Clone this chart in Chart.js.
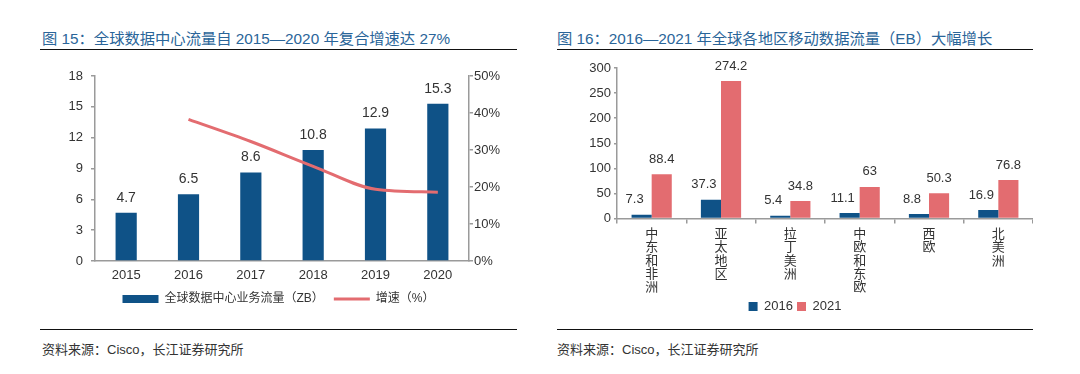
<!DOCTYPE html>
<html>
<head>
<meta charset="utf-8">
<script src="https://cdn.jsdelivr.net/npm/chart.js@4.4.0/dist/chart.umd.min.js"></script>
<style>
body { margin: 0; background: #fff; width: 1080px; height: 374px; position: relative; overflow: hidden;
       font-family: "Liberation Sans", "Noto Sans CJK SC", sans-serif; }
.title { position: absolute; top: 26px; font-size: 15.3px; color: #2a6599; white-space: nowrap; }
.rule { position: absolute; height: 0; border-top: 1.5px solid #111; }
.src { position: absolute; top: 339px; font-size: 13px; color: #333; white-space: nowrap; }
canvas { position: absolute; }
</style>
</head>
<body>
<div class="title" style="left:42px">图 15：全球数据中心流量自 2015—2020 年复合增速达 27%</div>
<div class="rule" style="left:40px;top:49px;width:477px"></div>
<canvas id="dcChart" width="477" height="260" style="left:40px;top:55px"></canvas>
<div class="rule" style="left:40px;top:329px;width:477px"></div>
<div class="src" style="left:42px">资料来源：Cisco，长江证券研究所</div>

<div class="title" style="left:557px">图 16：2016—2021 年全球各地区移动数据流量（EB）大幅增长</div>
<div class="rule" style="left:557px;top:49px;width:476px"></div>
<canvas id="mobileChart" width="476" height="268" style="left:557px;top:55px"></canvas>
<div class="rule" style="left:557px;top:329px;width:476px"></div>
<div class="src" style="left:557px">资料来源：Cisco，长江证券研究所</div>

<script>
// 图15 数据
const years = ['2015', '2016', '2017', '2018', '2019', '2020'];
const dcTraffic = [4.7, 6.5, 8.6, 10.8, 12.9, 15.3];
const dcGrowth = [null, 38.3, 32.3, 25.6, 19.4, 18.6];
const trafficTicks = [0, 3, 6, 9, 12, 15, 18];
const growthTicks = [0, 10, 20, 30, 40, 50];

// 图16 数据
const regions = ['中东和非洲', '亚太地区', '拉丁美洲', '中欧和东欧', '西欧', '北美洲'];
const mobile2016 = [7.3, 37.3, 5.4, 11.1, 8.8, 16.9];
const mobile2021 = [88.4, 274.2, 34.8, 63, 50.3, 76.8];
const mobileTicks = [0, 50, 100, 150, 200, 250, 300];

const BLUE = '#0f5287';
const PINK = '#e36c70';
const AXIS = '#9a9a9a';
const TEXT = '#333';
const FONT = '"Liberation Sans", "Noto Sans CJK SC", sans-serif';

Chart.defaults.font.family = FONT;
Chart.defaults.color = TEXT;

// 柱顶数值标签
const valueLabels = {
    id: 'valueLabels',
    afterDatasetsDraw(chart, args, opts) {
        const ctx = chart.ctx;
        ctx.save();
        ctx.font = opts.size + 'px ' + FONT;
        ctx.fillStyle = TEXT;
        ctx.textAlign = 'center';
        ctx.textBaseline = 'middle';
        chart.data.datasets.forEach((ds, i) => {
            if (ds.type === 'line') return;
            const dx = (opts.offsets && opts.offsets[i]) || 0;
            chart.getDatasetMeta(i).data.forEach((bar, j) => {
                ctx.fillText(String(ds.data[j]), bar.x + dx, bar.y - opts.gap);
            });
        });
        ctx.restore();
    }
};

function fixedTicks(values) {
    return function (scale) {
        scale.ticks = values.map(v => ({ value: v }));
    };
}

function createDcChart() {
    const ctx = document.getElementById('dcChart').getContext('2d');
    new Chart(ctx, {
        type: 'bar',
        data: {
            labels: years,
            datasets: [{
                label: '全球数据中心业务流量（ZB）',
                data: dcTraffic,
                backgroundColor: BLUE,
                borderWidth: 0,
                categoryPercentage: 1,
                barPercentage: 0.34,
                yAxisID: 'y',
                order: 1
            }, {
                type: 'line',
                label: '增速（%）',
                data: dcGrowth,
                borderColor: PINK,
                backgroundColor: PINK,
                borderWidth: 3,
                pointRadius: 0,
                cubicInterpolationMode: 'monotone',
                yAxisID: 'y1',
                order: 0
            }]
        },
        options: {
            responsive: false,
            animation: false,
            layout: { padding: { top: 21, left: 0, right: 0, bottom: 0 } },
            plugins: {
                tooltip: { enabled: false },
                valueLabels: { size: 14, gap: 15 },
                legend: {
                    position: 'bottom',
                    labels: {
                        usePointStyle: true,
                        pointStyleWidth: 36,
                        boxHeight: 8,
                        padding: 10,
                        color: TEXT,
                        font: { size: 12 },
                        generateLabels(chart) {
                            const items = Chart.defaults.plugins.legend.labels.generateLabels(chart);
                            return items.map(it => {
                                const ds = chart.data.datasets[it.datasetIndex];
                                if (ds.type === 'line') {
                                    it.pointStyle = 'line';
                                    it.lineWidth = 3;
                                    it.strokeStyle = PINK;
                                } else {
                                    it.pointStyle = 'rect';
                                    it.lineWidth = 0;
                                    it.fillStyle = BLUE;
                                }
                                return it;
                            });
                        },
                        sort: (a, b) => a.datasetIndex - b.datasetIndex
                    }
                }
            },
            scales: {
                x: {
                    grid: { display: false, drawTicks: false },
                    border: { color: AXIS, width: 1.5 },
                    ticks: { padding: 8, font: { size: 13, lineHeight: 1 }, color: TEXT },
                    afterFit(scale) { scale.height = 22; }
                },
                y: {
                    min: 0,
                    max: 18,
                    afterBuildTicks: fixedTicks(trafficTicks),
                    grid: { drawOnChartArea: false, tickLength: 4, color: AXIS, lineWidth: 1.5 },
                    border: { color: AXIS, width: 1.5 },
                    ticks: { padding: 8, font: { size: 13 }, color: TEXT },
                    afterFit(scale) { scale.width = 55; }
                },
                y1: {
                    position: 'right',
                    min: 0,
                    max: 50,
                    afterBuildTicks: fixedTicks(growthTicks),
                    grid: { drawOnChartArea: false, tickLength: 4, color: AXIS, lineWidth: 1.5 },
                    border: { color: AXIS, width: 1.5 },
                    ticks: { padding: 1, font: { size: 13 }, color: TEXT, callback: v => v + '%' },
                    afterFit(scale) { scale.width = 48; }
                }
            }
        },
        plugins: [valueLabels]
    });
}

function createMobileChart() {
    const ctx = document.getElementById('mobileChart').getContext('2d');
    new Chart(ctx, {
        type: 'bar',
        data: {
            labels: regions,
            datasets: [{
                label: '2016',
                data: mobile2016,
                backgroundColor: BLUE,
                borderWidth: 0,
                categoryPercentage: 0.58,
                barPercentage: 1
            }, {
                label: '2021',
                data: mobile2021,
                backgroundColor: PINK,
                borderWidth: 0,
                categoryPercentage: 0.58,
                barPercentage: 1
            }]
        },
        options: {
            responsive: false,
            animation: false,
            layout: { padding: { top: 13, left: 0, right: 0, bottom: 0 } },
            plugins: {
                tooltip: { enabled: false },
                valueLabels: { size: 13, gap: 15, offsets: [-7, 0] },
                legend: {
                    position: 'bottom',
                    labels: {
                        boxWidth: 9,
                        boxHeight: 9,
                        padding: 4,
                        color: TEXT,
                        font: { size: 13 }
                    }
                }
            },
            scales: {
                x: {
                    grid: { drawOnChartArea: false, tickLength: 5, color: AXIS, lineWidth: 1.5 },
                    border: { color: AXIS, width: 1.5 },
                    ticks: {
                        padding: 4,
                        maxRotation: 0,
                        autoSkip: false,
                        font: { size: 13, lineHeight: 1.03 },
                        color: TEXT,
                        callback: (v, i) => regions[i].split('')
                    },
                    afterFit(scale) { scale.height = 77.5; }
                },
                y: {
                    min: 0,
                    max: 300,
                    afterBuildTicks: fixedTicks(mobileTicks),
                    grid: { drawOnChartArea: false, tickLength: 3, color: AXIS, lineWidth: 1.5 },
                    border: { color: AXIS, width: 1.5 },
                    ticks: { padding: 3, font: { size: 13 }, color: TEXT },
                    afterFit(scale) { scale.width = 60; }
                }
            }
        },
        plugins: [valueLabels]
    });
}

createDcChart();
createMobileChart();
</script>
</body>
</html>
